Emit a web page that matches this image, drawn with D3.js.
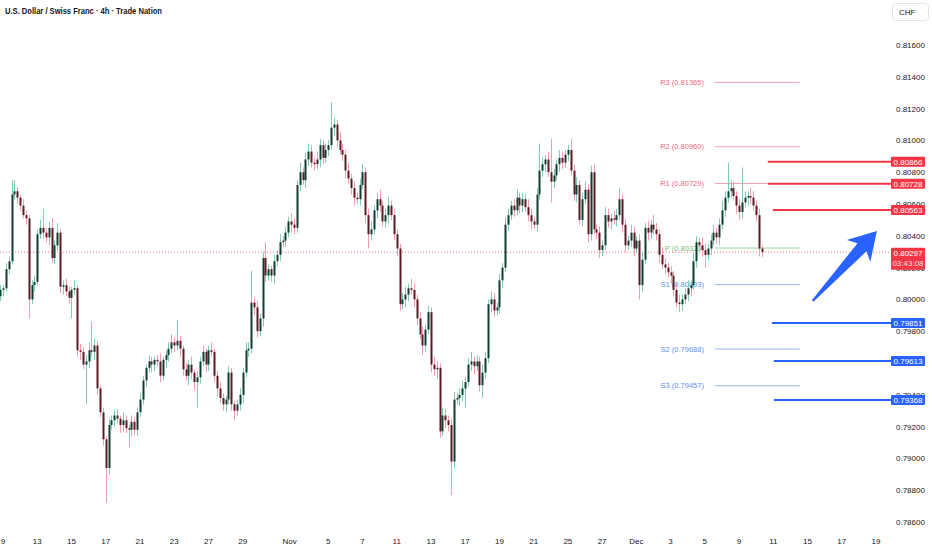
<!DOCTYPE html>
<html>
<head>
<meta charset="utf-8">
<script src="https://cdn.jsdelivr.net/npm/d3@7"></script>
<style>
  body { margin: 0; background: #fff; }
  svg { display: block; font-family: "Liberation Sans", Arial, sans-serif; }
</style>
</head>
<body>
<svg id="chart" width="932" height="550"></svg>
<script>
// 4h candles, open of each bar = previous close
const firstOpen = 0.8002;
const closes = [
  0.8006,0.8007,0.8019,0.8024,0.8066,0.8068,0.8064,0.8059,0.8053,0.8051,
  0.8000,0.8009,0.8011,0.8041,0.8045,0.8042,0.8039,0.8045,0.8026,0.8034,
  0.8042,0.8008,0.8009,0.8005,0.8001,0.8006,0.8007,0.7968,0.7967,0.7959,
  0.7961,0.7968,0.7967,0.7971,0.7944,0.7929,0.7912,0.7894,0.7921,0.7924,
  0.7927,0.7925,0.7921,0.7924,0.7919,0.7918,0.7923,0.7918,0.7929,0.7937,
  0.7949,0.7957,0.7961,0.7959,0.7962,0.7961,0.7952,0.7962,0.7965,0.7969,
  0.7973,0.7971,0.7974,0.7969,0.7956,0.7952,0.7959,0.7954,0.7948,0.7951,
  0.7961,0.7967,0.7959,0.7968,0.7967,0.7952,0.7944,0.7938,0.7934,0.7937,
  0.7954,0.7934,0.7930,0.7934,0.7940,0.7954,0.7968,0.7969,0.7998,0.7995,
  0.7980,0.7988,0.8026,0.8015,0.8019,0.8015,0.8024,0.8028,0.8036,0.8037,
  0.8042,0.8049,0.8047,0.8045,0.8072,0.8080,0.8075,0.8088,0.8093,0.8086,
  0.8085,0.8088,0.8097,0.8089,0.8094,0.8097,0.8108,0.8110,0.8100,0.8094,
  0.8091,0.8081,0.8076,0.8070,0.8064,0.8063,0.8072,0.8080,0.8053,0.8041,
  0.8044,0.8056,0.8063,0.8059,0.8049,0.8053,0.8059,0.8053,0.8041,0.8032,
  0.7997,0.8000,0.8003,0.8007,0.8006,0.8000,0.7988,0.7978,0.7971,0.7981,
  0.7992,0.7959,0.7956,0.7957,0.7917,0.7927,0.7924,0.7921,0.7898,0.7937,
  0.7938,0.7940,0.7944,0.7948,0.7959,0.7961,0.7958,0.7961,0.7946,0.7954,
  0.7963,0.7997,0.8000,0.7993,0.7995,0.8012,0.8020,0.8047,0.8053,0.8059,
  0.8056,0.8064,0.8059,0.8063,0.8058,0.8053,0.8049,0.8047,0.8066,0.8081,
  0.8085,0.8088,0.8080,0.8074,0.8078,0.8085,0.8089,0.8086,0.8091,0.8094,
  0.8081,0.8066,0.8072,0.8050,0.8063,0.8069,0.8041,0.8080,0.8044,0.8042,
  0.8031,0.8034,0.8053,0.8049,0.8051,0.8050,0.8053,0.8063,0.8047,0.8034,
  0.8037,0.8042,0.8032,0.8037,0.8009,0.8025,0.8045,0.8042,0.8047,0.8044,
  0.8041,0.8028,0.8022,0.8020,0.8017,0.8015,0.8006,0.7998,0.7997,0.8000,
  0.8003,0.8007,0.8009,0.8024,0.8036,0.8034,0.8031,0.8028,0.8032,0.8037,
  0.8042,0.8039,0.8047,0.8056,0.8064,0.8068,0.8070,0.8065,0.8059,0.8055,
  0.8061,0.8064,0.8065,0.8064,0.8059,0.8053,0.8032,0.80297
];
// wick lengths above / below the body, in pips
const upperWicks = [
  3,2,4,3,9,7,3,2,4,3, 2,3,4,3,5,12,3,4,6,3, 6,2,3,4,3,2,5,2,4,3,
  4,5,18,4,3,2,3,2,4,3, 3,4,2,5,3,2,4,3,3,4, 3,2,4,3,2,3,5,2,3,4,
  5,3,13,3,2,4,3,5,2,4, 3,4,2,3,5,2,3,4,3,2, 4,3,2,3,4,3,5,4,20,3,
  4,3,4,10,3,2,4,3,5,3, 4,3,5,4,3,6,3,4,5,4, 3,5,4,3,4,3,16,4,3,5,
  4,3,5,3,4,3,4,5,3,4, 5,3,4,6,3,4,5,3,4,3, 3,4,5,3,6,4,3,4,5,3,
  4,3,5,4,3,5,4,3,4,5, 3,4,5,3,4,6,3,4,3,5, 4,3,5,4,3,4,3,5,4,3,
  4,5,3,4,3,5,4,3,4,17, 4,3,5,21,4,3,5,4,3,3, 7,4,5,3,4,5,3,4,5,3,
  4,3,5,4,3,5,4,7,3,4, 3,5,4,3,4,5,3,4,3,6, 4,3,5,4,3,4,3,4,5,3,
  4,5,3,6,4,3,5,4,3,4, 5,3,4,6,4,18,5,4,3,4, 22,4,3,5,4,3,4,2
];
const lowerWicks = [
  3,4,2,3,2,3,4,3,2,4, 12,3,4,2,3,4,3,5,3,4, 3,4,5,3,4,13,3,4,5,3,
  25,4,3,5,4,3,4,22,4,3, 4,3,5,4,3,11,4,3,4,3, 3,4,3,5,4,3,4,3,5,4,
  3,4,3,5,4,3,6,4,5,16, 4,3,5,4,3,4,5,3,4,5, 3,4,6,3,4,5,3,4,3,5,
  4,3,5,4,3,4,5,3,4,3, 4,3,5,4,3,4,3,5,4,3, 4,3,5,4,3,4,3,5,4,3,
  4,5,3,4,5,3,4,3,5,9, 4,3,5,4,3,4,5,3,4,5, 4,3,5,4,3,5,4,3,6,4,
  3,5,4,6,4,3,5,4,21,4, 3,5,4,12,3,4,5,3,4,8, 4,3,5,4,3,4,5,3,4,3,
  4,3,5,4,3,4,5,3,4,3, 4,5,3,13,4,3,5,4,3,4, 3,4,5,3,4,3,5,4,3,4,
  5,4,3,4,5,3,4,3,5,4, 3,4,5,3,9,4,3,5,4,3, 4,5,3,4,3,5,4,3,5,4,
  3,4,5,3,4,3,4,8,3,4, 3,4,5,3,4,3,4,3,5,5, 4,3,5,4,3,4,5,3
];

// time axis: trading-day index (Oct 9 = 0)
const dayTicks = [0,2,4,6,8,10,12,14,16.75,19,21,23,25,27,29,31,33,35,37,39,41,43,45,47,49,51];
const dayLabels = ["9","13","15","17","21","23","27","29","Nov","5","7","11","13","17","19","21","25","27","Dec","3","5","9","11","15","17","19"];
const priceTicks = [0.786,0.788,0.790,0.792,0.794,0.796,0.798,0.800,0.802,0.804,0.806,0.808,0.810,0.812,0.814,0.816];

// pivot points
const pivotNames = ["R3","R2","R1","P","S1","S2","S3"];
const pivotValues = [0.81365,0.80960,0.80729,0.80323,0.80093,0.79688,0.79457];
const pivotFromDay = 41.59, pivotToDay = 46.55;

// key levels
const resistanceLevels = [0.80866,0.80728,0.80563];
const resistanceFromDay = [44.68,44.68,44.98];
const supportLevels = [0.79851,0.79613,0.79368];
const supportFromDay = [44.92,45.03,45.03];

const lastPrice = 0.80297;
const countdown = "03:43:08";
const arrowFrom = { day: 47.3, price: 0.7999 };
const arrowTo = { day: 51.05, price: 0.8043 };

const svg = d3.select("#chart"),
      plotRight = 891;

const x = d3.scaleLinear().domain([0, 51]).range([3, 876]);
const y = d3.scaleLinear().domain([0.786, 0.816]).range([522, 45]);

const green = { body: "#113e31", wick: "#7fcbb6" },
      red = { body: "#5c1c27", wick: "#f29dab" };

const candles = closes.map((c, i) => {
  const o = i === 0 ? firstOpen : closes[i - 1];
  return {
    day: (i - 1) / 6,
    open: o,
    close: c,
    high: Math.max(o, c) + upperWicks[i] * 1e-4,
    low: Math.min(o, c) - lowerWicks[i] * 1e-4
  };
});

// price axis labels
svg.append("g").selectAll("text")
  .data(priceTicks)
  .join("text")
  .attr("x", 896)
  .attr("y", d => y(d) + 3)
  .attr("font-size", 8)
  .attr("fill", "#131722")
  .text(d => d.toFixed(5));

// date labels
svg.append("g").selectAll("text")
  .data(dayTicks)
  .join("text")
  .attr("x", d => x(d))
  .attr("y", 544)
  .attr("text-anchor", "middle")
  .attr("font-size", 8)
  .attr("fill", "#131722")
  .text((d, i) => dayLabels[i]);

// title
svg.append("text")
  .attr("x", 5).attr("y", 14)
  .attr("font-size", 8.5)
  .attr("font-weight", 600)
  .attr("fill", "#131722")
  .attr("textLength", 157)
  .attr("lengthAdjust", "spacingAndGlyphs")
  .text("U.S. Dollar / Swiss Franc · 4h · Trade Nation");

// currency box
svg.append("rect")
  .attr("x", 892.5).attr("y", 3.5).attr("width", 36).attr("height", 17).attr("rx", 3)
  .attr("fill", "#fff").attr("stroke", "#e0e3eb");
svg.append("text")
  .attr("x", 899).attr("y", 15)
  .attr("font-size", 8).attr("fill", "#131722")
  .text("CHF");

// pivot lines + labels (behind candles)
const pivotColor = n => n[0] === "R" ? { line: "#f5a3b0", text: "#ee6a80" }
                      : n[0] === "P" ? { line: "#9fd39f", text: "#7cbb7f" }
                      : { line: "#95b6f4", text: "#5d8ff0" };
const piv = svg.append("g");
pivotValues.forEach((v, i) => {
  const c = pivotColor(pivotNames[i]);
  piv.append("line")
    .attr("x1", x(pivotFromDay)).attr("x2", x(pivotToDay))
    .attr("y1", y(v)).attr("y2", y(v))
    .attr("stroke", c.line).attr("stroke-width", 1);
  piv.append("text")
    .attr("x", x(pivotFromDay) - 11)
    .attr("y", y(v) + 2.7)
    .attr("text-anchor", "end")
    .attr("font-size", 7.5)
    .attr("fill", c.text)
    .text(`${pivotNames[i]} (${v.toFixed(5)})`);
});

// last price dotted line
svg.append("line")
  .attr("x1", 0).attr("x2", plotRight)
  .attr("y1", y(lastPrice)).attr("y2", y(lastPrice))
  .attr("stroke", "#f23645").attr("stroke-opacity", 0.7)
  .attr("stroke-dasharray", "1,2");

// candles
const bodyW = 2;
const cg = svg.append("g");
cg.selectAll("line")
  .data(candles)
  .join("line")
  .attr("x1", d => Math.round(x(d.day)) + 0.5)
  .attr("x2", d => Math.round(x(d.day)) + 0.5)
  .attr("y1", d => y(d.high))
  .attr("y2", d => y(d.low))
  .attr("stroke", d => d.close >= d.open ? green.wick : red.wick)
  .attr("stroke-width", 1);
cg.selectAll("rect")
  .data(candles)
  .join("rect")
  .attr("x", d => Math.round(x(d.day)) - bodyW / 2 + 0.5)
  .attr("width", bodyW)
  .attr("y", d => y(Math.max(d.open, d.close)))
  .attr("height", d => Math.max(1, Math.abs(y(d.open) - y(d.close))))
  .attr("fill", d => d.close >= d.open ? green.body : red.body);

// key levels with price tags
function drawLevels(levels, fromDays, color) {
  levels.forEach((v, i) => {
    svg.append("line")
      .attr("x1", x(fromDays[i])).attr("x2", plotRight)
      .attr("y1", y(v)).attr("y2", y(v))
      .attr("stroke", color).attr("stroke-width", 2);
    svg.append("rect")
      .attr("x", plotRight).attr("y", y(v) - 5)
      .attr("width", 34).attr("height", 10).attr("rx", 1)
      .attr("fill", color);
    svg.append("text")
      .attr("x", plotRight + 17).attr("y", y(v) + 3)
      .attr("text-anchor", "middle")
      .attr("font-size", 8).attr("fill", "#fff")
      .text(v.toFixed(5));
  });
}
drawLevels(resistanceLevels, resistanceFromDay, "#f23645");
drawLevels(supportLevels, supportFromDay, "#2962ff");

// current price tag with countdown
const ly = y(lastPrice);
svg.append("rect")
  .attr("x", plotRight).attr("y", ly - 4.5)
  .attr("width", 34).attr("height", 22).attr("rx", 1)
  .attr("fill", "#f23645");
svg.append("text")
  .attr("x", plotRight + 17).attr("y", ly + 3.5)
  .attr("text-anchor", "middle").attr("font-size", 8).attr("fill", "#fff")
  .text(lastPrice.toFixed(5));
svg.append("text")
  .attr("x", plotRight + 17).attr("y", ly + 14)
  .attr("text-anchor", "middle").attr("font-size", 8).attr("fill", "#fff")
  .attr("fill-opacity", 0.85)
  .text(countdown);

// blue arrow
const ax0 = x(arrowFrom.day), ay0 = y(arrowFrom.price),
      ax1 = x(arrowTo.day), ay1 = y(arrowTo.price);
const len = Math.hypot(ax1 - ax0, ay1 - ay0),
      ang = Math.atan2(ay1 - ay0, ax1 - ax0) * 180 / Math.PI;
const arrowPts = [[0, -1], [len - 22, -6], [len - 27, -16], [len, 0], [len - 27, 16], [len - 22, 6], [0, 1]];
svg.append("path")
  .attr("d", d3.line()(arrowPts) + "Z")
  .attr("transform", `translate(${ax0},${ay0}) rotate(${ang})`)
  .attr("fill", "#2962ff");
</script>
</body>
</html>
